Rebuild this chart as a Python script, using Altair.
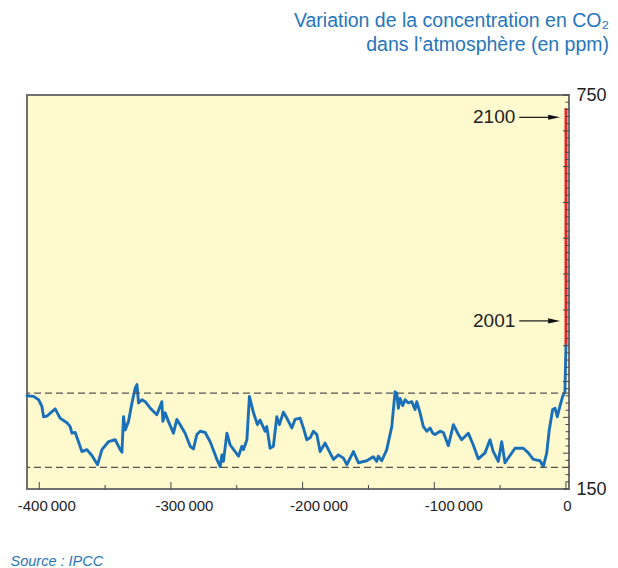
import altair as alt
import pandas as pd

# ---------------- data ----------------
co2_years_k = [-409.3, -404.3, -400.5, -398.0, -396.7, -394.2, -387.9, -384.2, -379.0, -376.5,
               -375.2, -372.7, -367.6, -363.8, -360.0, -355.7, -352.4, -347.4, -342.3, -338.5,
               -337.2, -336.0, -334.7, -332.2, -329.6, -327.1, -325.8, -324.6, -322.0, -319.5,
               -315.7, -310.7, -306.9, -306.1, -304.4, -301.9, -298.1, -295.5, -293.0, -289.2,
               -285.4, -282.9, -280.3, -277.8, -274.0, -270.2, -266.4, -265.1, -262.6, -261.3,
               -260.1, -257.5, -255.0, -248.7, -246.1, -244.9, -242.3, -240.4, -237.3, -234.3,
               -232.3, -228.5, -227.2, -224.7, -222.2, -219.6, -217.6, -214.6, -212.0, -208.2,
               -205.7, -201.9, -199.4, -196.8, -194.3, -191.8, -189.2, -186.7, -182.9, -180.4,
               -176.6, -172.8, -169.0, -166.4, -161.4, -157.6, -151.3, -146.3, -143.7, -142.5,
               -139.9, -136.1, -132.3, -129.8, -128.5, -127.3, -126.0, -124.0, -122.2, -119.7,
               -117.1, -114.6, -113.3, -110.8, -108.3, -105.7, -103.2, -101.2, -99.4, -95.6,
               -93.1, -89.3, -85.5, -81.7, -79.2, -74.2, -70.4, -66.6, -61.5, -57.7,
               -55.2, -51.4, -48.8, -46.3, -42.5, -38.7, -32.4, -28.6, -24.8, -19.7,
               -17.2, -14.6, -12.7, -10.1, -8.3, -6.6, -4.6, -2.5, -0.8, 0.0]
co2_ppm = [292, 291, 286, 276, 260, 261, 272, 258, 251, 245,
           235, 236, 207, 210, 201, 187, 210, 222, 225, 210,
           206, 260, 240, 253, 281, 304, 309, 281, 286, 283,
           273, 263, 283, 253, 266, 253, 235, 256, 248, 235,
           215, 211, 233, 238, 236, 222, 202, 195, 184, 202,
           192, 235, 217, 200, 215, 210, 225, 291, 266, 248,
           255, 238, 245, 212, 215, 260, 248, 267, 258, 243,
           256, 258, 243, 225, 228, 238, 233, 207, 220, 210,
           195, 202, 197, 187, 207, 190, 193, 199, 192, 200,
           193, 210, 245, 298, 296, 273, 288, 277, 286, 281,
           283, 271, 283, 266, 245, 238, 243, 235, 233, 238,
           236, 216, 248, 233, 225, 235, 217, 196, 205, 225,
           207, 192, 222, 190, 201, 212, 212, 205, 195, 193,
           184, 205, 240, 271, 273, 260, 276, 291, 298, 370]

projection_years = [0, 0]
projection_ppm = [370, 730]

glacial_levels = [183, 296]

arrow_labels = ["2100", "2001"]
arrow_ppm = [716, 406]
arrow_text_year = [-38500, -38500]
arrow_start_year = [-35500, -35500]
arrow_end_year = [-13500, -13500]
arrow_head_year = [-9000, -9000]

x_tick_values = [-400000, -300000, -200000, -100000, 0]
x_tick_labels = ["-400\u2009000", "-300\u2009000", "-200\u2009000", "-100\u2009000", "0"]
x_label_shift = [7, 13, 16, 19, 1]
x_minor_ticks = [-350000, -250000, -150000, -50000]

y_label_values = [150, 750]
y_major_ticks = [150 + i * 600 / 11 for i in range(12)]
y_minor_ticks = [150 + i * 600 / 55 for i in range(56) if i % 5]

title_lines = ["Variation de la concentration en CO\u2082", "dans l\u2019atmosph\u00e8re (en ppm)"]
source_text = "Source : IPCC"

# ---------------- styling ----------------
FONT = "Liberation Sans"
BLUE = "#1a70b8"
TITLE_BLUE = "#2676bb"
W, H = 542, 394
xscale = alt.Scale(domain=[-409300, 2300], nice=False, zero=False)
yscale = alt.Scale(domain=[150, 750], nice=False, zero=False)

label_expr = " : ".join(
    f"datum.value == {v} ? '{l}'" for v, l in zip(x_tick_values, x_tick_labels)
) + " : datum.label"
label_offset = {
    "condition": [{"test": f"datum.value == {v}", "value": s}
                  for v, s in zip(x_tick_values, x_label_shift)],
    "value": 0,
}

co2 = pd.DataFrame({"year": [y * 1000 for y in co2_years_k], "ppm": co2_ppm,
                    "i": list(range(len(co2_ppm)))})
proj = pd.DataFrame({"year": projection_years, "ppm": projection_ppm})
levels = pd.DataFrame({"level": glacial_levels})
arrows = pd.DataFrame({"label": arrow_labels, "ppm": arrow_ppm, "tx": arrow_text_year,
                       "x1": arrow_start_year, "x2": arrow_end_year, "hx": arrow_head_year})
xmaj = pd.DataFrame({"v": x_tick_values})
xmin = pd.DataFrame({"v": x_minor_ticks})
ymaj = pd.DataFrame({"v": y_major_ticks})
ymin = pd.DataFrame({"v": y_minor_ticks})

x_axis = alt.Axis(values=x_tick_values, labelExpr=label_expr, labelOffset=label_offset,
                  ticks=False, domain=False,
                  grid=False, labelFontSize=15, labelColor="#222", labelFont=FONT,
                  labelPadding=9, labelFlush=False,
                  title=source_text, titleX=-17, titleY=72, titleAlign="left",
                  titleBaseline="middle", titleAngle=0, titleFontStyle="italic",
                  titleFontWeight="normal", titleFontSize=14.5, titleColor=TITLE_BLUE,
                  titleFont=FONT)
y_axis = alt.Axis(orient="right", values=y_label_values, ticks=False, domain=False,
                  grid=False, labelFontSize=18, labelColor="#222", labelFont=FONT,
                  labelPadding=7, labelFlush=False, title=None)


def X(field):
    return alt.X(field, scale=xscale, axis=x_axis)


def Y(field):
    return alt.Y(field, scale=yscale, axis=y_axis)


dashed = alt.Chart(levels).mark_rule(color="#555", strokeWidth=1.4, strokeDash=[7, 4]).encode(
    y=Y("level:Q"))

curve = alt.Chart(co2).mark_line(color=BLUE, strokeWidth=2.9, strokeJoin="round",
                                 strokeCap="round").encode(
    x=X("year:Q"), y=Y("ppm:Q"), order="i:Q")

projection = alt.Chart(proj).mark_line(color="#e8262b", strokeWidth=3).encode(
    x=X("year:Q"), y=Y("ppm:Q"))

x_major = alt.Chart(xmaj).mark_rule(color="#444", strokeWidth=1).encode(
    x=X("v:Q"), y=alt.value(H - 7), y2=alt.value(H))
x_minor = alt.Chart(xmin).mark_rule(color="#444", strokeWidth=1).encode(
    x=X("v:Q"), y=alt.value(H - 4), y2=alt.value(H))
y_major = alt.Chart(ymaj).mark_rule(color="#444", strokeWidth=1).encode(
    y=Y("v:Q"), x=alt.value(W - 6), x2=alt.value(W))
y_minor = alt.Chart(ymin).mark_rule(color="#444", strokeWidth=1).encode(
    y=Y("v:Q"), x=alt.value(W - 3.5), x2=alt.value(W))

arrow_line = alt.Chart(arrows).mark_rule(color="#111", strokeWidth=1.2).encode(
    x=X("x1:Q"), x2="x2:Q", y=Y("ppm:Q"))
arrow_head = alt.Chart(arrows).mark_point(shape="M-1,-0.42L1,0L-1,0.42Z", filled=True,
                                          size=144, color="#111", opacity=1,
                                          strokeWidth=0).encode(
    x=X("hx:Q"), y=Y("ppm:Q"))
arrow_text = alt.Chart(arrows).mark_text(align="right", baseline="middle", fontSize=19,
                                         color="#222", font=FONT).encode(
    x=X("tx:Q"), y=Y("ppm:Q"), text="label:N")

chart = alt.layer(
    curve, dashed, projection, x_major, x_minor, y_major, y_minor,
    arrow_line, arrow_head, arrow_text
).properties(
    width=W, height=H,
    autosize=alt.AutoSizeParams(type="none"),
    padding={"left": 19, "top": 87, "right": 41, "bottom": 79},
    title=alt.TitleParams(text=title_lines, anchor="end", frame="group", dx=40,
                          fontSize=19.5, fontWeight="normal", color=TITLE_BLUE, font=FONT,
                          lineHeight=24, baseline="bottom", offset=12),
).configure_view(fill="#fffacd", stroke="#707070", strokeWidth=2)

chart.save("out.html", embed_options={"renderer": "svg", "actions": False})
